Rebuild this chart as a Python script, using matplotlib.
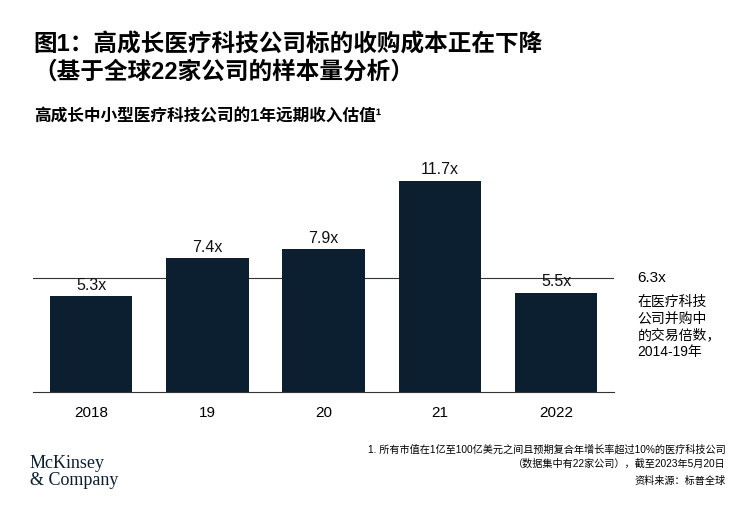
import matplotlib.pyplot as plt

plt.rcParams['font.family'] = ['Liberation Sans', 'Noto Sans CJK SC']

years = ["2018", "19", "20", "21", "2022"]
values = [5.3, 7.4, 7.9, 11.7, 5.5]
avg_value = 6.3
bar_color = "#0b1f30"

fig = plt.figure(figsize=(7.5, 5.16), dpi=100)
ax = fig.add_axes([0.044, 0.240, 0.775, 0.438])
x = range(len(years))
ax.bar(x, values, width=0.71, color=bar_color, zorder=2)
for i, v in zip(x, values):
    ax.text(i, v + 0.2, f"{v}x", ha='center', va='bottom', fontsize=11.5, color='#111111', zorder=3)
ax.axhline(avg_value, color='#333333', lw=0.8, zorder=1)
ax.set_xlim(-0.5, 4.5)
ax.set_ylim(0, 12.5)
ax.set_xticks(list(x))
ax.set_xticklabels(years, fontsize=11)
ax.tick_params(axis='x', length=0, pad=10)
ax.set_yticks([])
for s in ['top', 'right', 'left']:
    ax.spines[s].set_visible(False)
ax.spines['bottom'].set_color('#333333')
ax.spines['bottom'].set_linewidth(0.8)

ax.text(1.04, avg_value, f"{avg_value}x", transform=ax.get_yaxis_transform(),
        ha='left', va='center', fontsize=11)
ax.text(1.04, avg_value - 0.9, "在医疗科技\n公司并购中\n的交易倍数，\n2014-19年",
        transform=ax.get_yaxis_transform(), ha='left', va='top', fontsize=10, linespacing=1.25)

fig.text(0.045, 0.935, "图1：高成长医疗科技公司标的收购成本正在下降\n（基于全球22家公司的样本量分析）",
         fontsize=17, fontweight='bold', va='top', linespacing=1.25)
fig.text(0.045, 0.775, "高成长中小型医疗科技公司的1年远期收入估值¹", fontsize=12,
         fontweight='bold', va='center')

fig.text(0.968, 0.115, "1. 所有市值在1亿至100亿美元之间且预期复合年增长率超过10%的医疗科技公司\n（数据集中有22家公司），截至2023年5月20日",
         fontsize=7.3, ha='right', va='center', linespacing=1.5)
fig.text(0.968, 0.068, "资料来源：标普全球", fontsize=7.3, ha='right', va='center')

fig.text(0.04, 0.085, "McKinsey\n& Company", fontsize=13, family='Liberation Serif',
         color='#0b1f30', va='center', linespacing=1.0)

fig.savefig("out.png", dpi=100)
